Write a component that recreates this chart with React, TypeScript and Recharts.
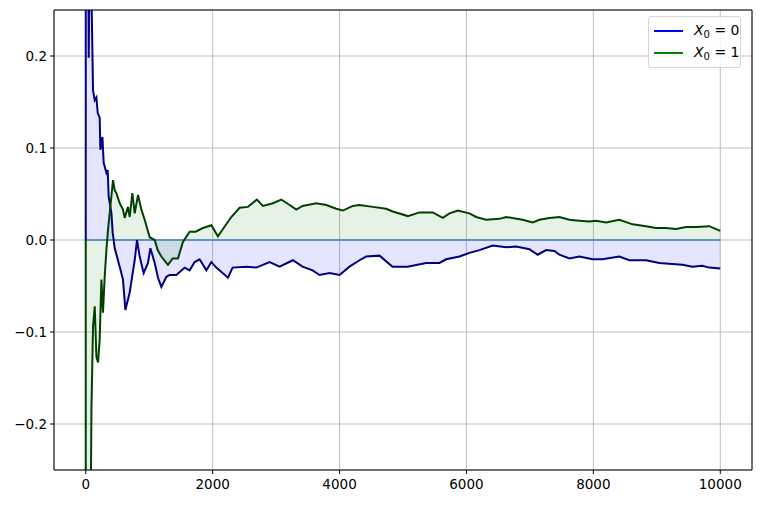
import {
  ComposedChart,
  Line,
  Area,
  XAxis,
  YAxis,
  CartesianGrid,
  ReferenceLine,
  ReferenceArea,
} from "recharts";

// running means (x = step, y = value)
const blueSteps = [
  0, 1, 20, 40, 47, 60, 90, 115, 142, 168, 189, 220, 231, 263, 283, 326, 346,
  362, 405, 425, 457, 535, 587, 625, 693, 772, 808, 850, 913, 981, 1019, 1087,
  1139, 1192, 1271, 1323, 1428, 1559, 1638, 1717, 1795, 1901, 1980, 2058, 2241,
  2315, 2531, 2688, 2898, 3055, 3265, 3417, 3575, 3685, 3843, 4000, 4157, 4315,
  4420, 4630, 4835, 5071, 5365, 5575, 5680, 5890, 6047, 6205, 6414, 6625, 6783,
  6992, 7123, 7255, 7386, 7465, 7622, 7780, 7989, 8142, 8409, 8567, 8830, 9039,
  9244, 9402, 9559, 9717, 9827, 10000,
];
const blueValues = [
  0, 1.0, 0.5, 0.33, 0.198, 0.3, 0.27, 0.163, 0.152, 0.155, 0.138, 0.133,
  0.098, 0.112, 0.084, 0.073, 0.076, 0.047, 0.029, 0.008, -0.009, -0.029,
  -0.043, -0.076, -0.057, -0.022, 0.0, -0.018, -0.036, -0.025, -0.009, -0.025,
  -0.041, -0.051, -0.04, -0.038, -0.038, -0.03, -0.033, -0.024, -0.021, -0.033,
  -0.024, -0.03, -0.041, -0.03, -0.029, -0.03, -0.024, -0.029, -0.022, -0.029,
  -0.033, -0.038, -0.036, -0.038, -0.029, -0.022, -0.018, -0.017, -0.029,
  -0.029, -0.025, -0.025, -0.021, -0.018, -0.014, -0.011, -0.006, -0.008,
  -0.007, -0.01, -0.016, -0.011, -0.012, -0.016, -0.02, -0.018, -0.021, -0.021,
  -0.018, -0.022, -0.022, -0.025, -0.026, -0.027, -0.029, -0.028, -0.03, -0.031,
];

const greenSteps = [
  0, 1, 30, 60, 80, 90, 115, 142, 168, 194, 220, 247, 272, 299, 326, 351, 430,
  457, 483, 535, 587, 614, 666, 693, 735, 772, 824, 877, 929, 1008, 1087, 1134,
  1192, 1296, 1370, 1454, 1532, 1638, 1732, 1847, 1980, 2083, 2173, 2294, 2425,
  2556, 2698, 2792, 2950, 3082, 3213, 3318, 3417, 3633, 3791, 3948, 4052, 4209,
  4315, 4524, 4735, 4839, 5076, 5260, 5469, 5627, 5732, 5863, 6047, 6153, 6310,
  6520, 6625, 6887, 7044, 7150, 7307, 7465, 7622, 7780, 7937, 8042, 8200, 8409,
  8619, 8830, 8987, 9145, 9302, 9460, 9617, 9827, 10000,
];
const greenValues = [
  0, -1.0, -0.5, -0.33, -0.28, -0.184, -0.094, -0.072, -0.127, -0.133, -0.108,
  -0.043, -0.079, -0.04, -0.011, 0.011, 0.065, 0.054, 0.051, 0.04, 0.033, 0.024,
  0.036, 0.025, 0.051, 0.029, 0.049, 0.033, 0.022, 0.003, 0.0, -0.011, -0.018,
  -0.027, -0.02, -0.02, -0.002, 0.009, 0.009, 0.013, 0.016, 0.004, 0.013,
  0.025, 0.035, 0.036, 0.044, 0.037, 0.04, 0.044, 0.038, 0.033, 0.037, 0.04,
  0.038, 0.034, 0.032, 0.037, 0.038, 0.036, 0.034, 0.031, 0.026, 0.03, 0.03,
  0.024, 0.029, 0.032, 0.029, 0.025, 0.022, 0.023, 0.025, 0.022, 0.019, 0.022,
  0.024, 0.025, 0.022, 0.021, 0.02, 0.021, 0.019, 0.022, 0.017, 0.015, 0.013,
  0.013, 0.012, 0.014, 0.014, 0.015, 0.01,
];

const xTicks = [0, 2000, 4000, 6000, 8000, 10000];
const yTicks = [-0.2, -0.1, 0, 0.1, 0.2];

const blueData = blueSteps.map((x, i) => ({ x, y: blueValues[i] }));
const greenData = greenSteps.map((x, i) => ({ x, y: greenValues[i] }));

const FONT = "'DejaVu Sans', sans-serif";

const fmtY = (v: number) =>
  v < 0 ? `\u2212${Math.abs(v).toFixed(1)}` : v.toFixed(1);

function LegendRow({ color, label }: { color: string; label: string }) {
  return (
    <div style={{ display: "flex", alignItems: "center", height: 22 }}>
      <div style={{ width: 29, height: 2, background: color, marginRight: 11 }} />
      <span style={{ fontSize: 14 }}>
        <i>X</i>
        <span style={{ fontSize: 10, verticalAlign: -3 }}>0</span> = {label}
      </span>
    </div>
  );
}

export default function App() {
  return (
    <div
      style={{
        position: "absolute",
        left: 0,
        top: 0,
        width: 760,
        height: 505,
        background: "#fff",
        fontFamily: FONT,
      }}
    >
      <ComposedChart
        width={760}
        height={505}
        margin={{ top: 10, right: 8, left: 0, bottom: 0 }}
      >
        <CartesianGrid stroke="#b0b0b0" strokeWidth={0.8} />
        <XAxis
          type="number"
          dataKey="x"
          domain={[-500, 10500]}
          ticks={xTicks}
          allowDataOverflow
          height={35}
          tickSize={4}
          tickMargin={5}
          axisLine={false}
          tickLine={{ stroke: "#000" }}
          tick={{ fill: "#000", fontSize: 13.5, fontFamily: FONT }}
        />
        <YAxis
          type="number"
          dataKey="y"
          domain={[-0.25, 0.25]}
          ticks={yTicks}
          allowDataOverflow
          width={54}
          tickSize={4}
          tickMargin={3}
          axisLine={false}
          tickLine={{ stroke: "#000" }}
          tickFormatter={fmtY}
          tick={{ fill: "#000", fontSize: 13.5, fontFamily: FONT }}
        />
        <Area
          data={blueData}
          dataKey="y"
          type="linear"
          baseValue={0}
          stroke="none"
          fill="blue"
          fillOpacity={0.1}
          isAnimationActive={false}
        />
        <Area
          data={greenData}
          dataKey="y"
          type="linear"
          baseValue={0}
          stroke="none"
          fill="green"
          fillOpacity={0.1}
          isAnimationActive={false}
        />
        <ReferenceLine
          segment={[
            { x: 0, y: 0 },
            { x: 10000, y: 0 },
          ]}
          stroke="#5f93c2"
          strokeWidth={2}
        />
        <Line
          data={blueData}
          dataKey="y"
          type="linear"
          stroke="#000080"
          strokeWidth={2}
          dot={false}
          isAnimationActive={false}
        />
        <Line
          data={greenData}
          dataKey="y"
          type="linear"
          stroke="#004000"
          strokeWidth={2}
          dot={false}
          isAnimationActive={false}
        />
        <ReferenceArea
          x1={-500}
          x2={10500}
          y1={-0.25}
          y2={0.25}
          fill="none"
          stroke="#000"
          strokeWidth={1}
          ifOverflow="visible"
        />
      </ComposedChart>
      <div
        style={{
          position: "absolute",
          left: 648,
          top: 16,
          width: 86,
          height: 44,
          padding: "3px 0 3px 5px",
          border: "1px solid #d6d6d6",
          borderRadius: 3,
          background: "rgba(255,255,255,0.8)",
        }}
      >
        <LegendRow color="#0000ff" label="0" />
        <LegendRow color="#008000" label="1" />
      </div>
    </div>
  );
}
